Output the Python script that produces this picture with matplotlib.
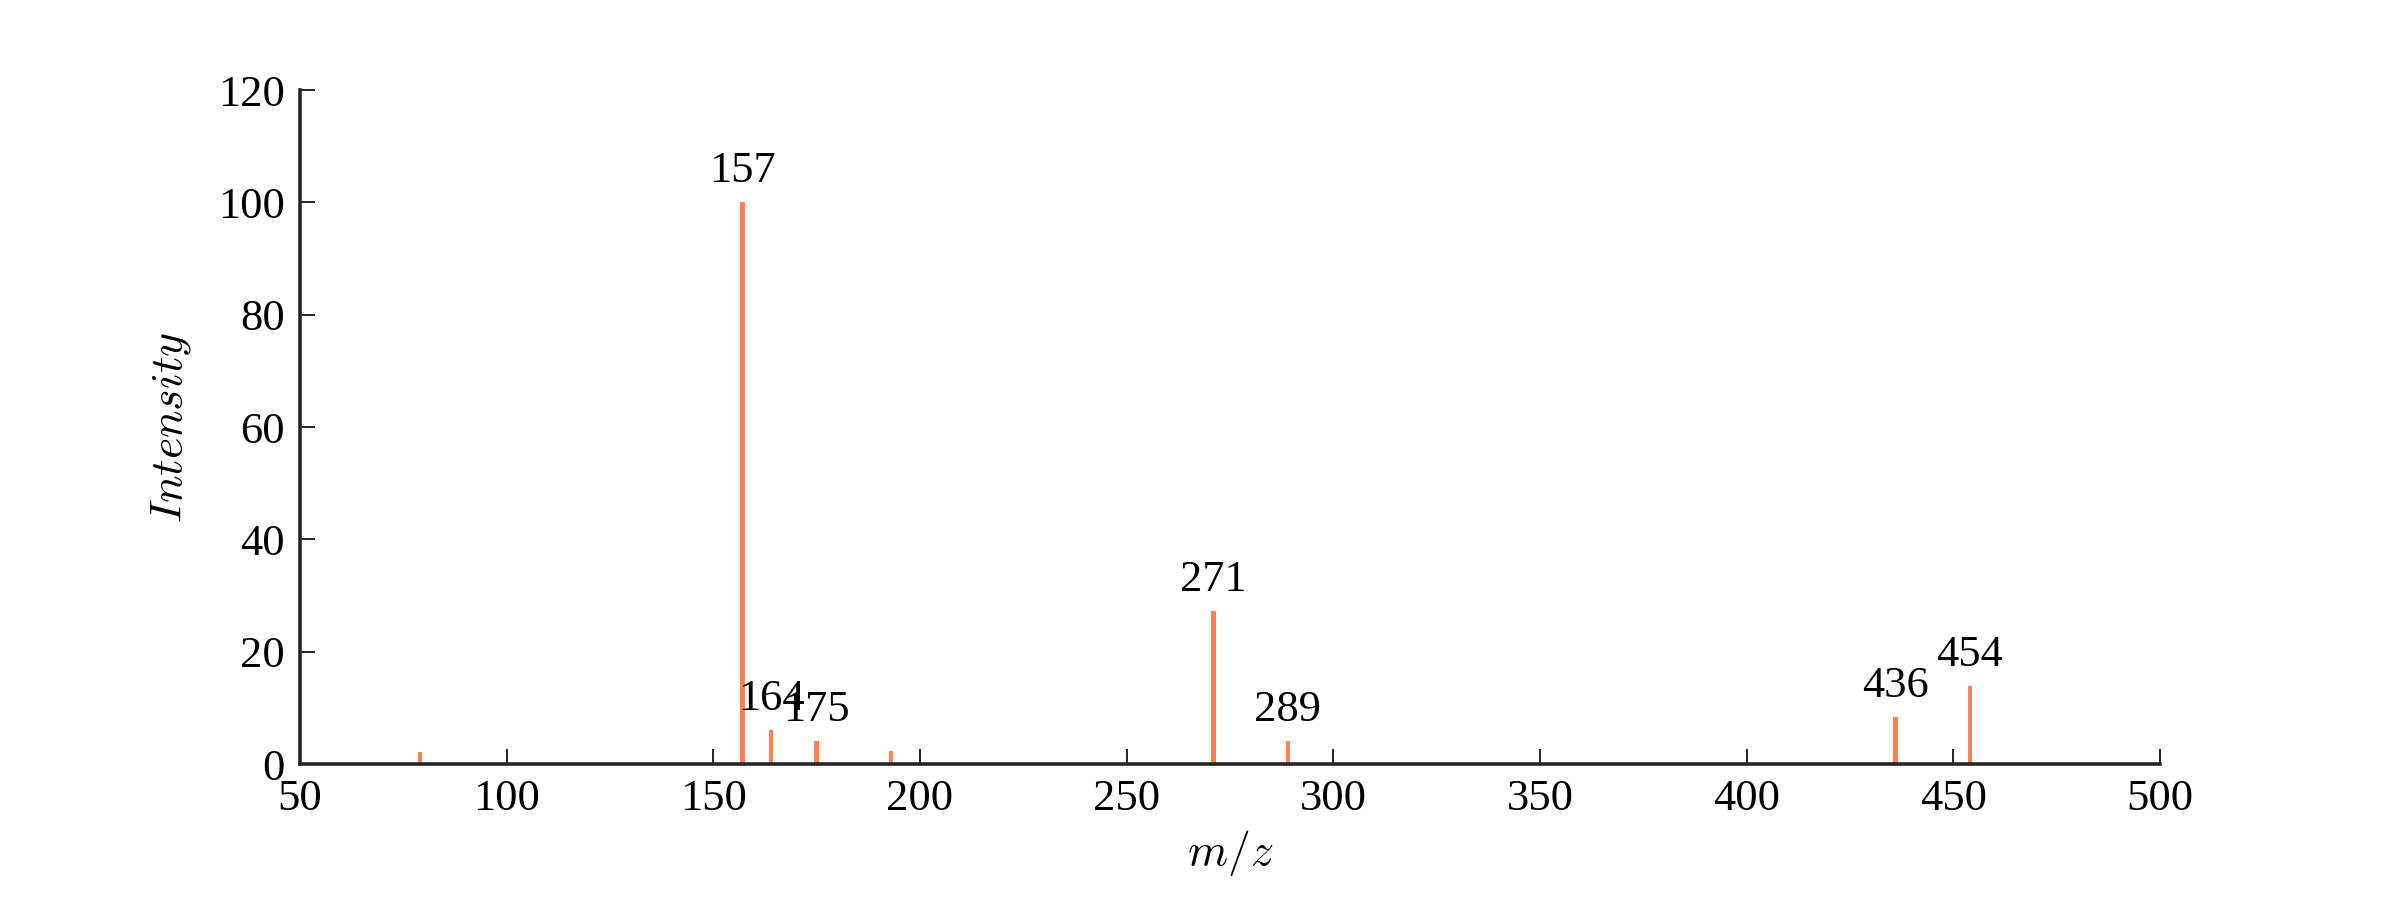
import matplotlib.pyplot as plt
import matplotlib

matplotlib.rcParams['font.family'] = 'serif'
matplotlib.rcParams['font.serif'] = ['Liberation Serif', 'DejaVu Serif']
matplotlib.rcParams['mathtext.fontset'] = 'cm'

# peaks: m/z and relative intensity
mz = [79, 157, 164, 175, 193, 271, 289, 436, 454]
intensity = [2.2, 100, 6.1, 4.1, 2.3, 27.2, 4.1, 8.3, 13.9]
labeled = [157, 164, 175, 271, 289, 436, 454]

fig, ax = plt.subplots(figsize=(24, 9), dpi=100)
fig.subplots_adjust(left=0.125, right=0.9, top=0.9, bottom=0.151)

ax.bar(mz, intensity, width=1.1, color='#ff7f50', linewidth=0)
for x, y in zip(mz, intensity):
    if x in labeled:
        ax.text(x, y + 2.0, str(x), ha='center', va='bottom', fontsize=32)

ax.set_xlim(50, 500)
ax.set_ylim(0, 120)
ax.set_yticks(range(0, 121, 20))
ax.set_xlabel(r'$m/z$', fontsize=33, labelpad=6)
ax.set_ylabel(r'$Intensity$', fontsize=33, labelpad=18)

for s in ['top', 'right']:
    ax.spines[s].set_visible(False)
for s in ['left', 'bottom']:
    ax.spines[s].set_linewidth(2.6)
    ax.spines[s].set_color('#262626')
ax.tick_params(direction='in', length=11, width=1.2, labelsize=32, pad=11,
               top=False, right=False)

plt.savefig('out.png')
